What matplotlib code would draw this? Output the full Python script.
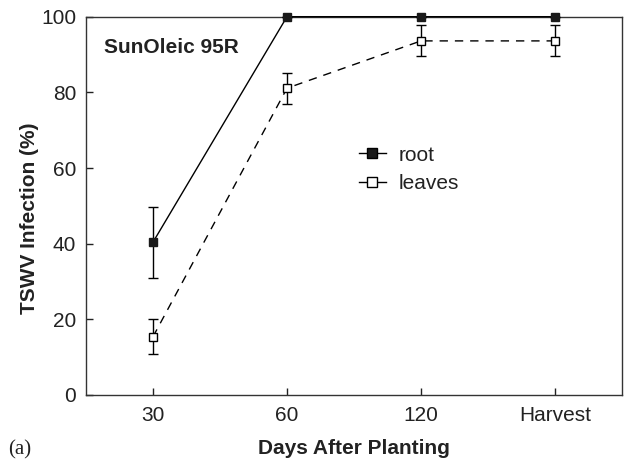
import matplotlib.pyplot as plt
from matplotlib.lines import Line2D

plt.rcParams["font.family"] = ["Liberation Sans", "DejaVu Sans"]

# Данные
categories = ["30", "60", "120", "Harvest"]
root = [40.4, 100, 100, 100]
root_err = [9.4, 0, 0, 0]
leaves = [15.4, 81.1, 93.6, 93.6]
leaves_err = [4.6, 4.1, 4.1, 4.1]

fig = plt.figure(figsize=(6.25, 4.61), dpi=100)
ax = fig.add_axes([0.1376, 0.1432, 0.8576, 0.8206])

x = range(len(categories))

ax.errorbar(x, root, yerr=root_err, color="black", linewidth=1.0,
            marker="s", markersize=6, markerfacecolor="#1a1a1a",
            markeredgecolor="#1a1a1a", capsize=3.5, elinewidth=1.0,
            capthick=1.0, zorder=3, clip_on=False)
ax.errorbar(x, leaves, yerr=leaves_err, color="black", linewidth=1.0,
            linestyle=(0, (6, 5)), marker="s", markersize=6,
            markerfacecolor="white", markeredgecolor="black",
            capsize=3.5, elinewidth=1.0, capthick=1.0, zorder=3)

ax.set_xlim(-0.5, 3.5)
ax.set_ylim(0, 100)
ax.set_xticks(list(x))
ax.set_xticklabels(categories)
ax.set_yticks([0, 20, 40, 60, 80, 100])

# Оформление осей
ax.tick_params(direction="in", length=5, width=1.0, labelsize=15,
               colors="#222222")
ax.tick_params(axis="x", pad=8)
ax.tick_params(axis="y", pad=7)
for s in ax.spines.values():
    s.set_linewidth(1.0)
    s.set_color("#333333")

ax.set_xlabel("Days After Planting", fontsize=15, fontweight="bold",
              color="#222222")
ax.set_ylabel("TSWV Infection (%)", fontsize=15, fontweight="bold",
              color="#222222")
ax.xaxis.set_label_coords(0.5, -0.116)
ax.yaxis.set_label_coords(-0.088, 0.467)

ax.text(0.034, 0.903, "SunOleic 95R", transform=ax.transAxes, fontsize=15,
        fontweight="bold", color="#222222")

handles = [
    Line2D([], [], color="black", linewidth=1.0, marker="s", markersize=7,
           markerfacecolor="#1a1a1a"),
    Line2D([], [], color="black", linewidth=1.0, marker="s", markersize=7,
           markerfacecolor="white"),
]
ax.legend(handles, ["root", "leaves"], loc="upper left",
          bbox_to_anchor=(0.474, 0.709), frameon=False, fontsize=15,
          handlelength=1.3, handletextpad=0.6, labelspacing=0.45,
          labelcolor="#222222")

fig.text(0.013, 0.024, "(a)", fontsize=15, family="Liberation Serif",
         va="center", color="#222222")

fig.savefig("out.png", dpi=100)
